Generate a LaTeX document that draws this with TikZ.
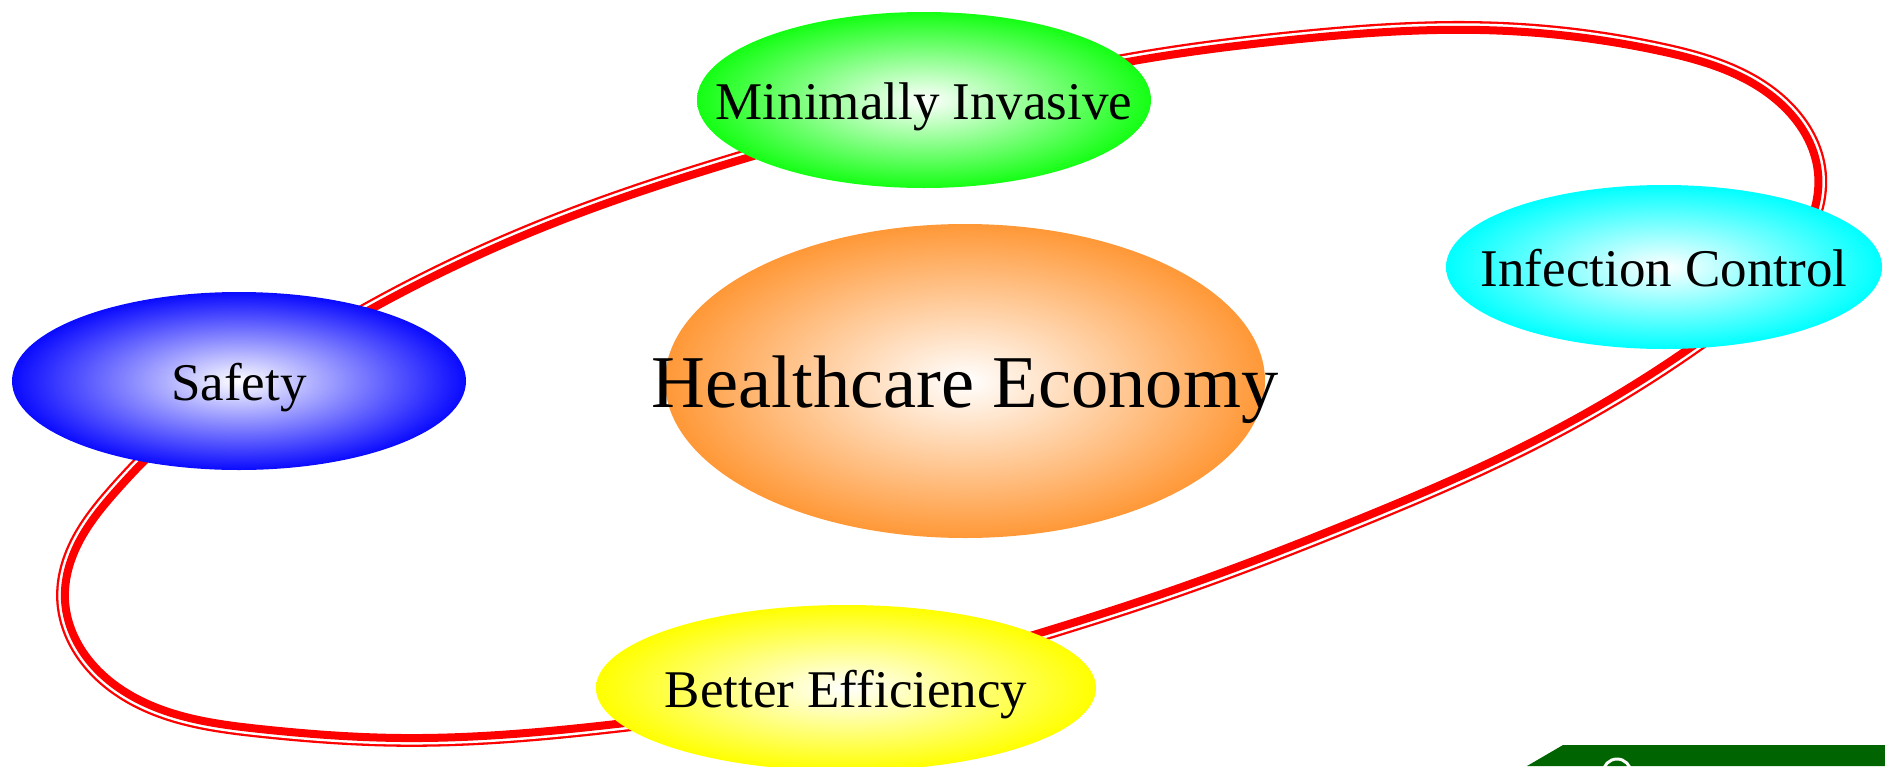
\documentclass[tikz,border=0pt]{standalone}
\usepackage{fontspec}
\setmainfont{Liberation Serif}
\usetikzlibrary{shapes.geometric,hobby}

\definecolor{ringred}{RGB}{255,0,0}
\definecolor{mingreen}{RGB}{20,255,20}
\definecolor{infcyan}{RGB}{0,255,255}
\definecolor{safeblue}{RGB}{10,10,255}
\definecolor{ecoorange}{RGB}{255,152,55}
\definecolor{effyellow}{RGB}{255,255,0}
\definecolor{logogreen}{RGB}{0,100,0}

\begin{document}
\begin{tikzpicture}[x=0.5pt,y=-0.5pt,
                    bubble/.style={ellipse,inner sep=0pt,shading=radial,inner color=white,
                                   text height=19pt,text depth=0pt,
                                   font=\fontsize{26.5}{30}\selectfont}]
                        \useasboundingbox (0,0) rectangle (1885,766);
                        % the ring behind the bubbles
                        \def\ringpath{plot[closed hobby] coordinates {
                            (373,308) (567,218) (750,157) (940,104) (1133,61)
                            (1300,39) (1480,30) (1660,51) (1780,103) (1818,173)
                            (1780,270) (1687,350) (1536,440) (1357,520) (1179,588)
                            (1000,645) (810,695) (625,723) (402,738) (260,729)
                            (150,705) (85,655) (65,600) (80,540) (117,490)
                            (190,420) (280,362)}}
                        \begin{scope}[even odd rule]
                            \clip (-50,-50) rectangle (1935,816) \ringpath;
                            \draw [ringred,line width=8.8pt] \ringpath;
                            \draw [white,line width=6.5pt] \ringpath;
                        \end{scope}
                        \draw [ringred,line width=4pt] \ringpath;
                        % bubbles
                        \node (minvasive) [bubble,outer color=mingreen,minimum width=227pt,minimum height=88pt] at (924,100) {\makebox[0pt]{Minimally Invasive}};
                        \node (infection) [bubble,outer color=infcyan,minimum width=218pt,minimum height=82pt] at (1664,267) {\makebox[0pt]{Infection Control}};
                        \node (safety) [bubble,outer color=safeblue,minimum width=227pt,minimum height=89pt] at (239,381) {\makebox[0pt]{Safety}};
                        \node (economy) [bubble,outer color=ecoorange,minimum width=300pt,minimum height=157pt,
                                         text height=26.8pt,font=\fontsize{37.25}{42}\selectfont] at (965,381) {\makebox[0pt]{Healthcare Economy}};
                        \node (efficiency) [bubble,outer color=effyellow,minimum width=250pt,minimum height=83pt] at (846,688) {\makebox[0pt]{Better Efficiency}};
                        % corner of the logo
                        \fill [logogreen] (1527,766) -- (1563,745) -- (1885,745) -- (1885,766) -- cycle;
                        \draw [white,line width=1.5pt] (1617,773) circle (14);
                    \end{tikzpicture}
\end{document}
